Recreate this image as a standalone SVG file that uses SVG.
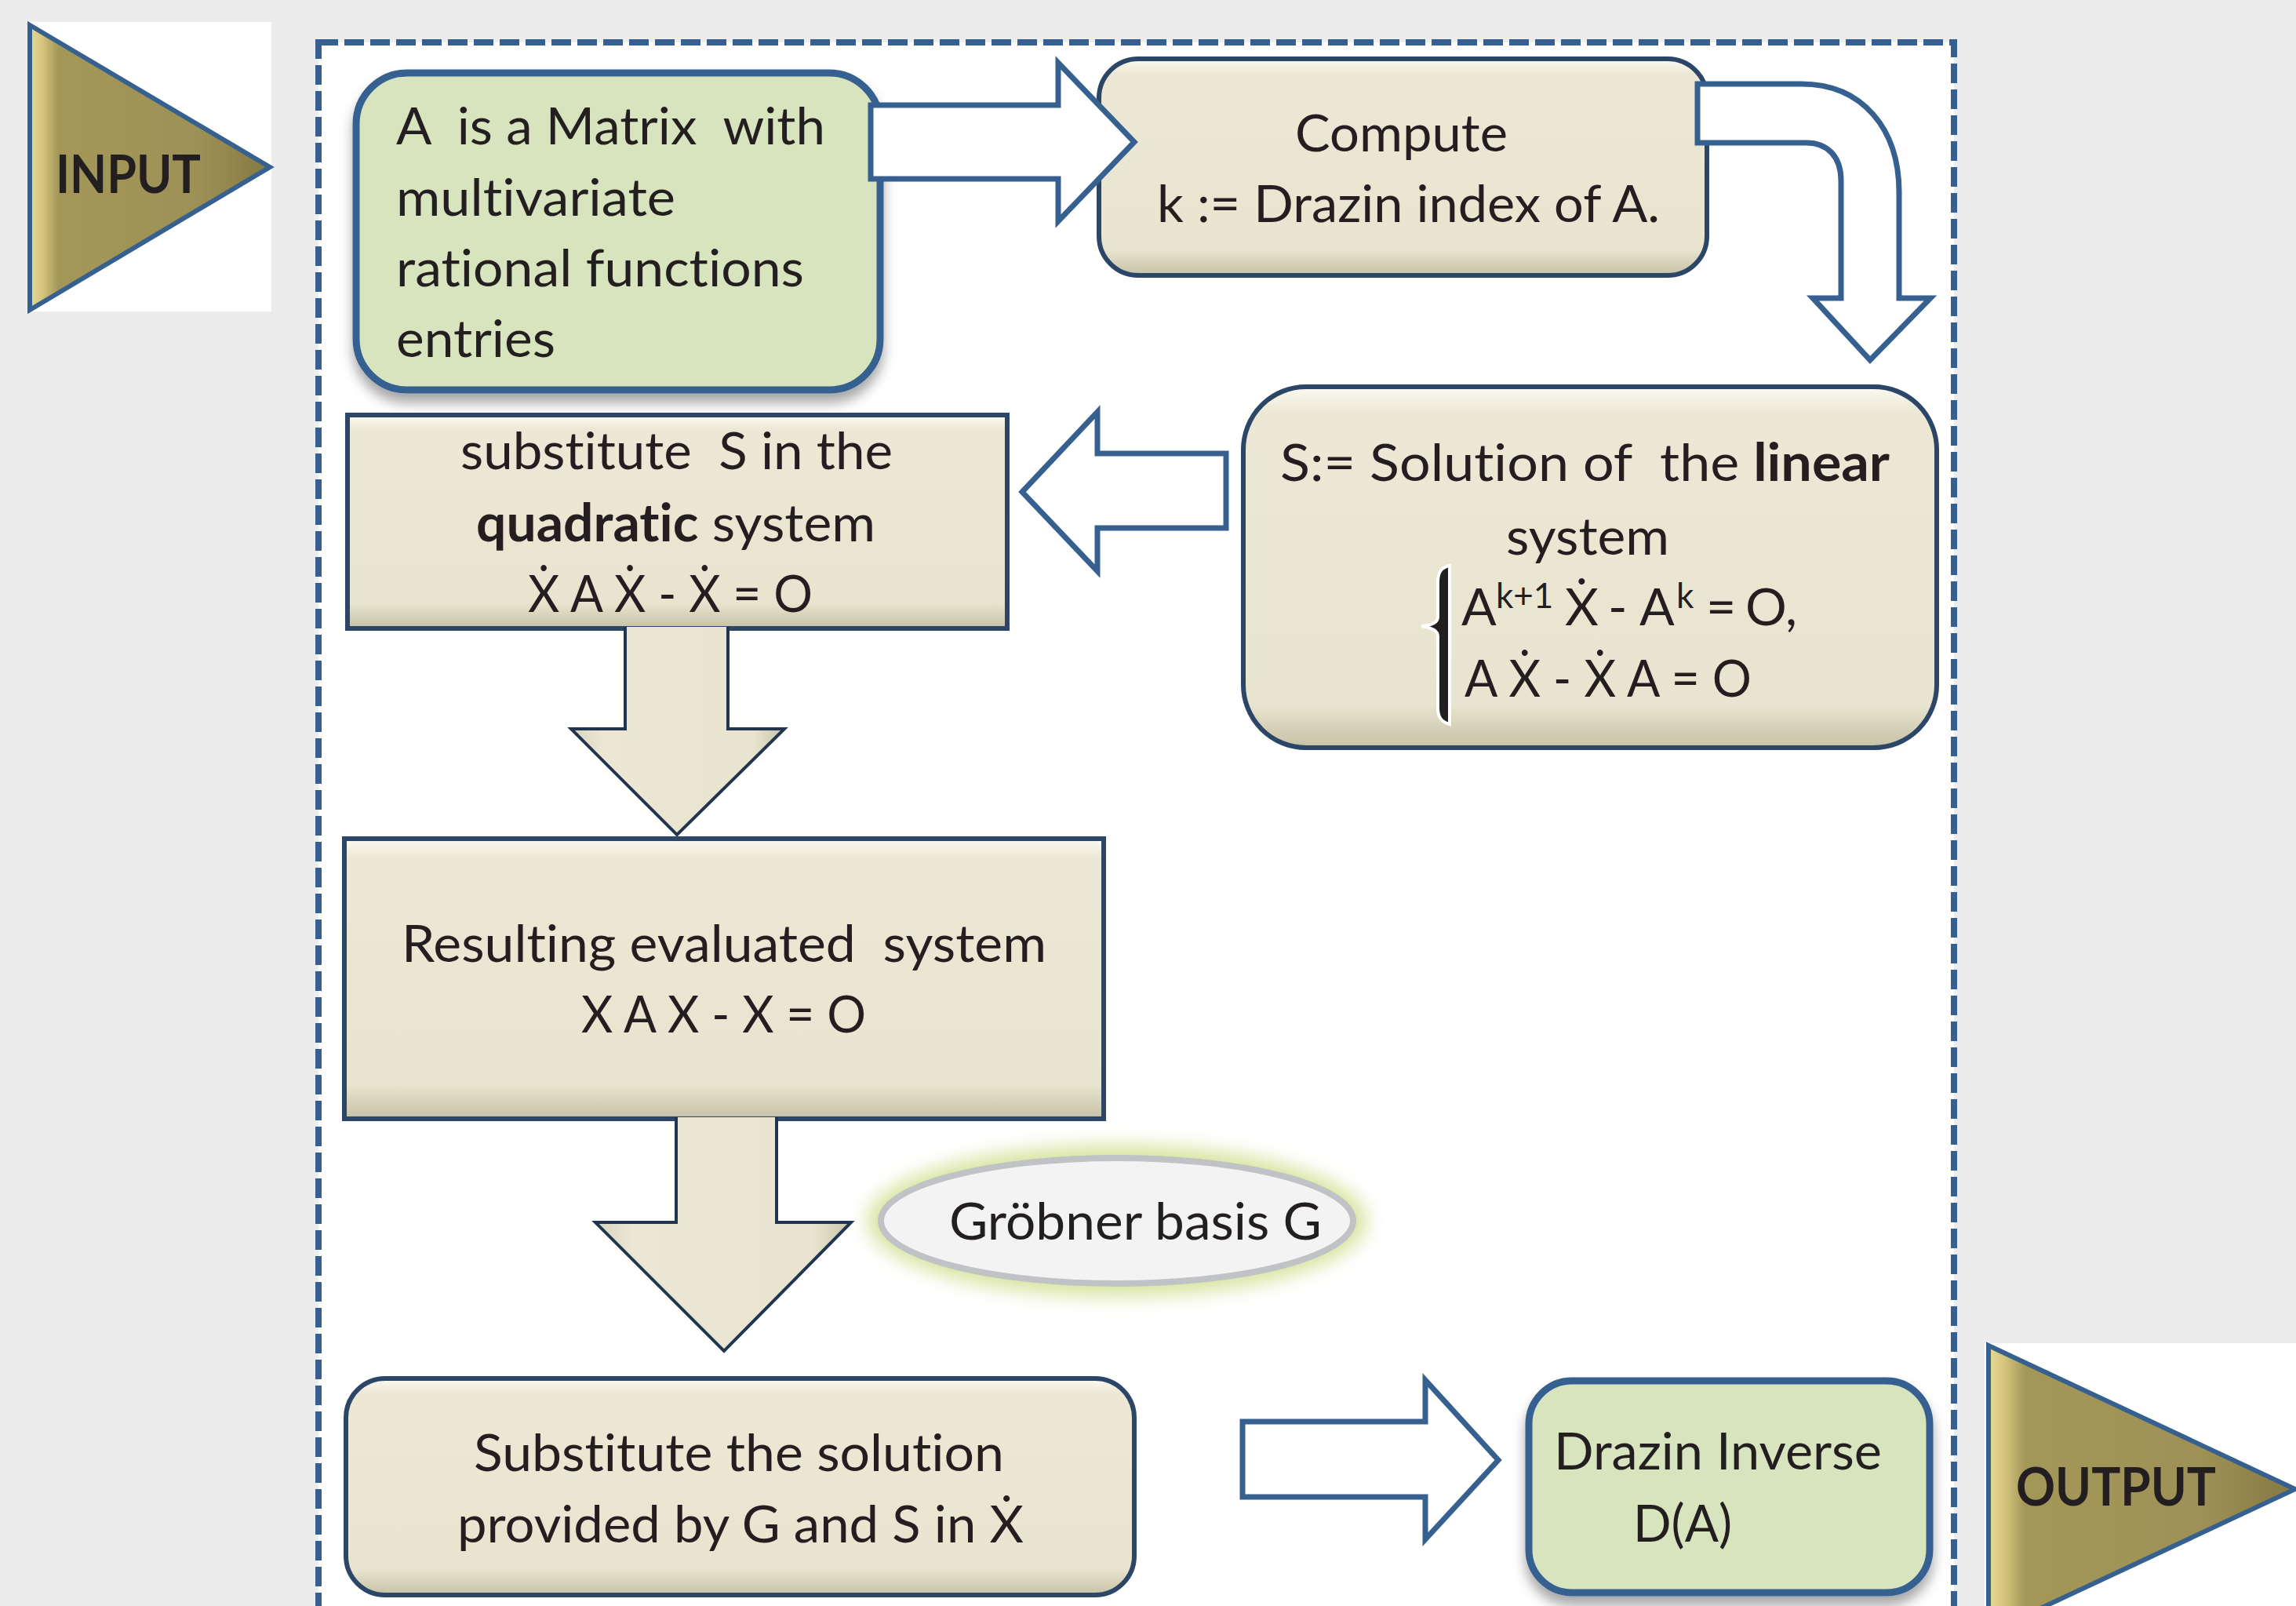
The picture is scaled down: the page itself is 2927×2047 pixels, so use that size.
<svg xmlns="http://www.w3.org/2000/svg" width="2927" height="2047" viewBox="0 0 2927 2047">
<style>
text{font-family:Lato,"Liberation Sans","DejaVu Sans",sans-serif;font-size:66px;fill:#231f20;white-space:pre;font-variant-ligatures:none}
.b{font-weight:bold}
.sup{font-size:44px}
.green{fill:#d7e4bd;stroke:#36608f;stroke-width:9}
.beige{fill:url(#beigeG);stroke:#2b4666;stroke-width:6}
.warrow{fill:#ffffff;stroke:#36608f;stroke-width:7;stroke-linejoin:miter}
.barrow{fill:url(#arrowG);stroke:#1f3550;stroke-width:4}
.tri{fill:url(#triG);stroke:#36608f;stroke-width:6}
</style>
<defs>
<linearGradient id="beigeG" x1="0" y1="0" x2="0" y2="1">
<stop offset="0" stop-color="#fbfaf2"/>
<stop offset="0.07" stop-color="#ece8d5"/>
<stop offset="0.88" stop-color="#e8e4cf"/>
<stop offset="1" stop-color="#c6c1a6"/>
</linearGradient>
<linearGradient id="arrowG" x1="0" y1="0" x2="1" y2="0">
<stop offset="0" stop-color="#d9d4bd"/>
<stop offset="0.15" stop-color="#ebe7d3"/>
<stop offset="0.85" stop-color="#e8e4cf"/>
<stop offset="1" stop-color="#c9c4aa"/>
</linearGradient>
<linearGradient id="triG" x1="0" y1="0" x2="1" y2="0">
<stop offset="0" stop-color="#e6d898"/>
<stop offset="0.05" stop-color="#d6c67e"/>
<stop offset="0.12" stop-color="#a39758"/>
<stop offset="0.7" stop-color="#9d9156"/>
<stop offset="1" stop-color="#857943"/>
</linearGradient>
<filter id="shadow" x="-10%" y="-10%" width="120%" height="130%">
<feDropShadow dx="0" dy="12" stdDeviation="8" flood-color="#000" flood-opacity="0.35"/>
</filter>
<filter id="glow" x="-20%" y="-40%" width="140%" height="180%">
<feGaussianBlur stdDeviation="12"/>
</filter>
</defs>

<rect x="0" y="0" width="2927" height="2047" fill="#ececec"/>
<rect x="37" y="28" width="309" height="369" fill="#ffffff"/>
<rect x="2530" y="1712" width="397" height="335" fill="#ffffff"/>
<rect x="406" y="54" width="2085" height="2100" fill="#ffffff" stroke="#36608f" stroke-width="8" stroke-dasharray="25 8"/>

<g id="input">
<polygon class="tri" points="38,32 344,213 38,395"/>
<text class="b" x="71" y="246" textLength="185" lengthAdjust="spacingAndGlyphs">INPUT</text>
</g>

<g id="output">
<polygon class="tri" points="2535,1715 2926,1898 2535,2081"/>
<text class="b" x="2570" y="1919" textLength="255" lengthAdjust="spacingAndGlyphs">OUTPUT</text>
</g>

<g id="node-matrix">
<rect class="green" x="454" y="93" width="668" height="404" rx="65" filter="url(#shadow)"/>
<text x="505" y="184" textLength="547" lengthAdjust="spacingAndGlyphs">A  is a Matrix  with</text>
<text x="505" y="275" textLength="356" lengthAdjust="spacingAndGlyphs">multivariate</text>
<text x="505" y="365" textLength="520" lengthAdjust="spacingAndGlyphs">rational functions</text>
<text x="505" y="455" textLength="203" lengthAdjust="spacingAndGlyphs">entries</text>
</g>

<g id="node-compute">
<rect class="beige" x="1401" y="75" width="775" height="276" rx="50"/>
<text x="1651" y="193" textLength="271" lengthAdjust="spacingAndGlyphs">Compute</text>
<text x="1475" y="283" textLength="641" lengthAdjust="spacingAndGlyphs">k := Drazin index of A.</text>
</g>

<g id="node-linear">
<rect class="beige" x="1585" y="493" width="884" height="460" rx="80"/>
<text x="1632" y="613" textLength="777" lengthAdjust="spacingAndGlyphs">S:= Solution of  the <tspan class="b">linear</tspan></text>
<text x="1920" y="707" textLength="208" lengthAdjust="spacingAndGlyphs">system</text>
<path d="M1848,721 C1837,723 1833,730 1833,742 L1833,786 C1833,793 1826,797 1812,798 C1826,800 1833,804 1833,811 L1833,902 C1833,914 1837,920 1848,923 Z" fill="#231f20" stroke="#ffffff" stroke-width="4"/>
<text y="797"><tspan x="1863">A</tspan><tspan class="sup" x="1907" y="775">k+1</tspan><tspan x="1995" y="797">Ẋ</tspan><tspan x="2050">-</tspan><tspan x="2090">A</tspan><tspan class="sup" x="2137" y="775">k</tspan><tspan x="2175" y="797">=</tspan><tspan x="2225">O,</tspan></text>
<text x="1867" y="888" textLength="366" lengthAdjust="spacingAndGlyphs">A Ẋ - Ẋ A = O</text>
</g>

<g id="node-quadratic">
<rect class="beige" x="443" y="529" width="841" height="272"/>
<text x="587" y="598" textLength="551" lengthAdjust="spacingAndGlyphs">substitute  S in the</text>
<text x="607" y="690" textLength="509" lengthAdjust="spacingAndGlyphs"><tspan class="b">quadratic</tspan> system</text>
<text x="673" y="780" textLength="363" lengthAdjust="spacingAndGlyphs">Ẋ A Ẋ - Ẋ = O</text>
</g>

<g id="node-resulting">
<rect class="beige" x="439" y="1069" width="968" height="357"/>
<text x="512" y="1226" textLength="822" lengthAdjust="spacingAndGlyphs">Resulting evaluated  system</text>
<text x="741" y="1316" textLength="363" lengthAdjust="spacingAndGlyphs">X A X - X = O</text>
</g>

<g id="node-groebner">
<ellipse cx="1424" cy="1556" rx="318" ry="96" fill="#d6e39c" filter="url(#glow)"/>
<ellipse cx="1424" cy="1556" rx="301" ry="80" fill="#f2f3f2" stroke="#c0c2c6" stroke-width="8"/>
<text x="1210" y="1580" textLength="475" lengthAdjust="spacingAndGlyphs">Gröbner basis G</text>
</g>

<g id="node-substitute">
<rect class="beige" x="441" y="1757" width="1005" height="276" rx="50"/>
<text x="604" y="1875" textLength="676" lengthAdjust="spacingAndGlyphs">Substitute the solution</text>
<text x="583" y="1966" textLength="722" lengthAdjust="spacingAndGlyphs">provided by G and S in Ẋ</text>
</g>

<g id="node-drazin">
<rect class="green" x="1949" y="1760" width="511" height="270" rx="55" filter="url(#shadow)"/>
<text x="1981" y="1873" textLength="418" lengthAdjust="spacingAndGlyphs">Drazin Inverse</text>
<text x="2082" y="1965" textLength="126" lengthAdjust="spacingAndGlyphs">D(A)</text>
</g>

<g id="connectors">
<path class="warrow" d="M1110,134 L1349,134 L1349,80 L1446,181 L1349,282 L1349,228 L1110,228 Z"/>
<path class="warrow" d="M2164,107 L2296,107 C2375,107 2421,165 2421,245 L2421,380 L2461,380 L2384,459 L2311,380 L2347,380 L2347,230 C2347,200 2330,182 2303,182 L2164,182 Z"/>
<path class="warrow" d="M1563,578 L1399,578 L1399,525 L1303,627 L1399,728 L1399,673 L1563,673 Z"/>
<path class="barrow" d="M797,799 L797,929 L728,929 L863,1064 L1000,929 L928,929 L928,799"/>
<path class="barrow" d="M862,1424 L862,1558 L759,1558 L923,1722 L1085,1558 L990,1558 L990,1424"/>
<path class="warrow" d="M1584,1812 L1817,1812 L1817,1759 L1910,1861 L1817,1962 L1817,1908 L1584,1908 Z"/>
</g>
</svg>
